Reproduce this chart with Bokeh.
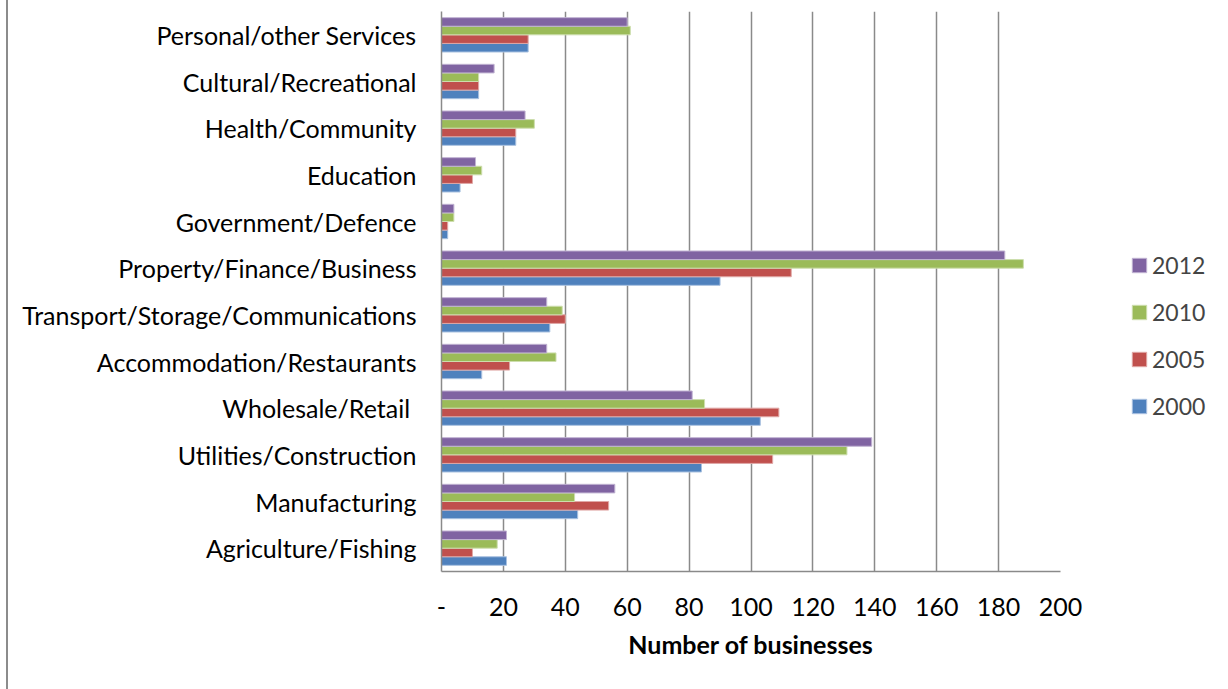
from bokeh.plotting import figure
from bokeh.models import FactorRange, FixedTicker, Legend, LegendItem, ColumnDataSource
from bokeh.transform import dodge
from bokeh.embed import file_html
from bokeh.resources import INLINE

categories = [
    "Agriculture/Fishing",
    "Manufacturing",
    "Utilities/Construction",
    "Wholesale/Retail ",
    "Accommodation/Restaurants",
    "Transport/Storage/Communications",
    "Property/Finance/Business",
    "Government/Defence",
    "Education",
    "Health/Community",
    "Cultural/Recreational",
    "Personal/other Services",
]
v2000 = [21, 44, 84, 103, 13, 35, 90, 2, 6, 24, 12, 28]
v2005 = [10, 54, 107, 109, 22, 40, 113, 2, 10, 24, 12, 28]
v2010 = [18, 43, 131, 85, 37, 39, 188, 4, 13, 30, 12, 61]
v2012 = [21, 56, 139, 81, 34, 34, 182, 4, 11, 27, 17, 60]
years = ["2000", "2005", "2010", "2012"]
x_ticks = [0, 20, 40, 60, 80, 100, 120, 140, 160, 180, 200]

colors = {"2000": "#4F81BD", "2005": "#C0504D", "2010": "#9BBB59", "2012": "#8064A2"}
edges = {"2000": "#A9C1E0", "2005": "#E0A8A6", "2010": "#CDDEAD", "2012": "#C0B2D2"}
offsets = {"2000": -0.276, "2005": -0.092, "2010": 0.092, "2012": 0.276}

src = ColumnDataSource(dict(cat=categories, y2000=v2000, y2005=v2005, y2010=v2010, y2012=v2012))

LEFT_PAD = 8
p = figure(
    frame_width=619, frame_height=560,
    y_range=FactorRange(*categories, range_padding=0),
    x_range=(0, 200),
    output_backend="svg", toolbar_location=None,
    min_border_left=441 - LEFT_PAD, min_border_right=168,
    min_border_top=11, min_border_bottom=118,
)
p.styles = {"border-left": "2px solid #8c8c8c", "margin-left": "6px"}
p.y_range.factor_padding = 0
p.outline_line_color = None
p.background_fill_color = "white"
p.border_fill_color = "white"

renderers = {}
for yr in years:
    renderers[yr] = p.hbar(
        y=dodge("cat", offsets[yr], range=p.y_range), right="y" + yr, left=0,
        height=0.184, source=src, fill_color=colors[yr], line_color=edges[yr], line_width=1,
    )

# axes
p.xaxis.ticker = FixedTicker(ticks=x_ticks)
p.xaxis.major_label_overrides = {0: "-"}
p.xaxis.axis_label = "Number of businesses"
p.xaxis.axis_label_text_font = "Lato"
p.xaxis.axis_label_text_font_style = "bold"
p.xaxis.axis_label_text_font_size = "25px"
p.xaxis.axis_label_text_color = "black"
p.xaxis.axis_label_standoff = 10
p.xaxis.major_label_text_font = "Lato"
p.xaxis.major_label_text_font_size = "25px"
p.xaxis.major_label_text_color = "black"
p.xaxis.major_label_standoff = 20
p.xaxis.major_tick_line_color = None
p.xaxis.minor_tick_line_color = None
p.xaxis.axis_line_color = "#8a8a8a"
p.xaxis.axis_line_width = 1.5

p.yaxis.major_label_text_font = "Lato"
p.yaxis.major_label_text_font_size = "25px"
p.yaxis.major_label_text_color = "black"
p.yaxis.major_label_standoff = 19
p.yaxis.major_tick_line_color = None
p.yaxis.minor_tick_line_color = None
p.yaxis.axis_line_color = "#8a8a8a"
p.yaxis.axis_line_width = 1.5

p.xgrid.grid_line_color = "#8a8a8a"
p.xgrid.grid_line_width = 1.5
p.ygrid.grid_line_color = None

legend = Legend(
    items=[LegendItem(label=yr, renderers=[renderers[yr]]) for yr in ["2012", "2010", "2005", "2000"]],
    location=(70, 151),
    glyph_width=18, glyph_height=18, label_standoff=4,
    label_text_font="Lato", label_text_font_size="23px", label_height=24,
    spacing=19, padding=0, margin=0,
    border_line_color=None, background_fill_alpha=0,
)
p.add_layout(legend, "right")

open("out.html", "w").write(file_html(p, INLINE))
